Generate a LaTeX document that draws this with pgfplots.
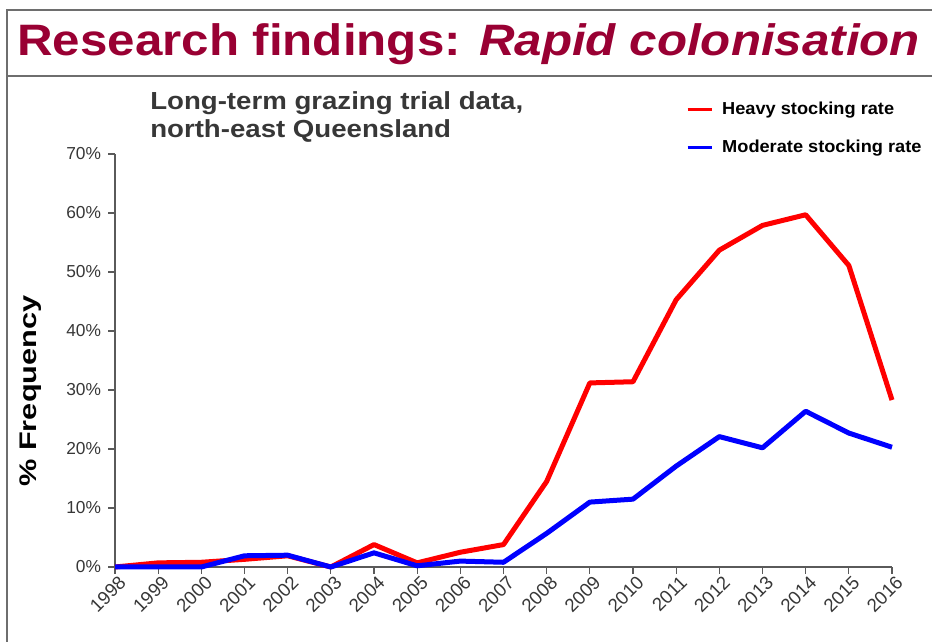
\documentclass[border=0pt]{standalone}
\usepackage{fontspec}
\usepackage{pgfplots}
\pgfplotsset{compat=1.18}
\setmainfont{Liberation Sans}
\newfontfamily\titlefont[FakeStretch=1.12]{Liberation Sans}
\newfontfamily\tickfont[FakeStretch=1.0]{Liberation Sans}
\newfontfamily\legfont[FakeStretch=1.05]{Liberation Sans}
\newfontfamily\subfont[FakeStretch=1.12]{Liberation Sans}
\newfontfamily\ylabfont[FakeStretch=1.28]{Liberation Sans}
\definecolor{titlered}{RGB}{153,0,51}
\definecolor{framegray}{RGB}{110,110,110}
\definecolor{txtgray}{RGB}{55,55,55}
\definecolor{axgray}{RGB}{90,90,90}
\begin{document}
\begin{tikzpicture}[x=0.75pt,y=0.75pt]
\path[use as bounding box] (0,0) rectangle (932,642);
% frame
\draw[framegray,line width=1.5pt] (932,632) -- (7,632) -- (7,0);
\draw[framegray,line width=1.5pt] (7,566) -- (932,566);
% title
\node[anchor=base west,inner sep=0pt,text=titlered,font=\titlefont\fontsize{33}{40}\selectfont\bfseries] at (17,586) {Research findings: \textit{Rapid colonisation}};
% subtitle
\node[anchor=base west,inner sep=0pt,text=txtgray,font=\subfont\fontsize{18.5}{22}\selectfont\bfseries] at (150,532) {Long-term grazing trial data,};
\node[anchor=base west,inner sep=0pt,text=txtgray,font=\subfont\fontsize{18.5}{22}\selectfont\bfseries] at (150,504) {north-east Queensland};
% y label
\node[rotate=90,inner sep=0pt,font=\ylabfont\fontsize{18}{22}\selectfont\bfseries] at (31,251) {\% Frequency};
\begin{axis}[
  at={(86.25pt,56.25pt)}, anchor=south west,
  scale only axis, width=582.75pt, height=309.75pt,
  xmin=1998, xmax=2016, ymin=0, ymax=70,
  axis lines=left, axis line style={axgray,line width=1pt,-},
  clip=false,
  xtick={1998,1999,...,2016},
  ytick={0,10,...,70},
  tick align=outside, major tick length=5pt,
  tick style={axgray,line width=0.9pt},
  /pgf/number format/assume math mode=true,
  xticklabel={\pgfmathprintnumber[1000 sep={},fixed]{\tick}},
  yticklabel={\pgfmathprintnumber{\tick}\%},
  xticklabel style={rotate=45,anchor=north east,font=\tickfont\fontsize{14}{16}\selectfont,text=txtgray,inner sep=1pt,xshift=2pt,yshift=-1pt},
  yticklabel style={font=\tickfont\fontsize{13}{15}\selectfont,text=txtgray,xshift=-2pt},
  legend style={at={(rel axis cs:0.7297,1.14)},anchor=north west,draw=none,fill=none,
    font=\legfont\fontsize{13}{15}\selectfont\bfseries,row sep=14pt},
  legend cell align=left,
  legend image code/.code={\draw[#1,line width=2.2pt] (0pt,0pt) -- (18pt,0pt);\path (22pt,0pt);},
]
\addplot[red,line width=3.75pt,line join=round] coordinates {
(1998,0) (1999,0.7) (2000,0.8) (2001,1.3) (2002,1.9) (2003,0) (2004,3.8) (2005,0.7) (2006,2.5) (2007,3.8)
(2008,14.5) (2009,31.2) (2010,31.4) (2011,45.3) (2012,53.7) (2013,57.9) (2014,59.7) (2015,51.1) (2016,28.3)};
\addlegendentry{Heavy stocking rate}
\addplot[blue,line width=3.75pt,line join=round] coordinates {
(1998,0) (1999,0) (2000,0) (2001,1.9) (2002,2.0) (2003,0) (2004,2.4) (2005,0.2) (2006,1.0) (2007,0.8)
(2008,5.7) (2009,11.0) (2010,11.5) (2011,17.1) (2012,22.1) (2013,20.2) (2014,26.4) (2015,22.7) (2016,20.3)};
\addlegendentry{Moderate stocking rate}
\end{axis}
\end{tikzpicture}
\end{document}
